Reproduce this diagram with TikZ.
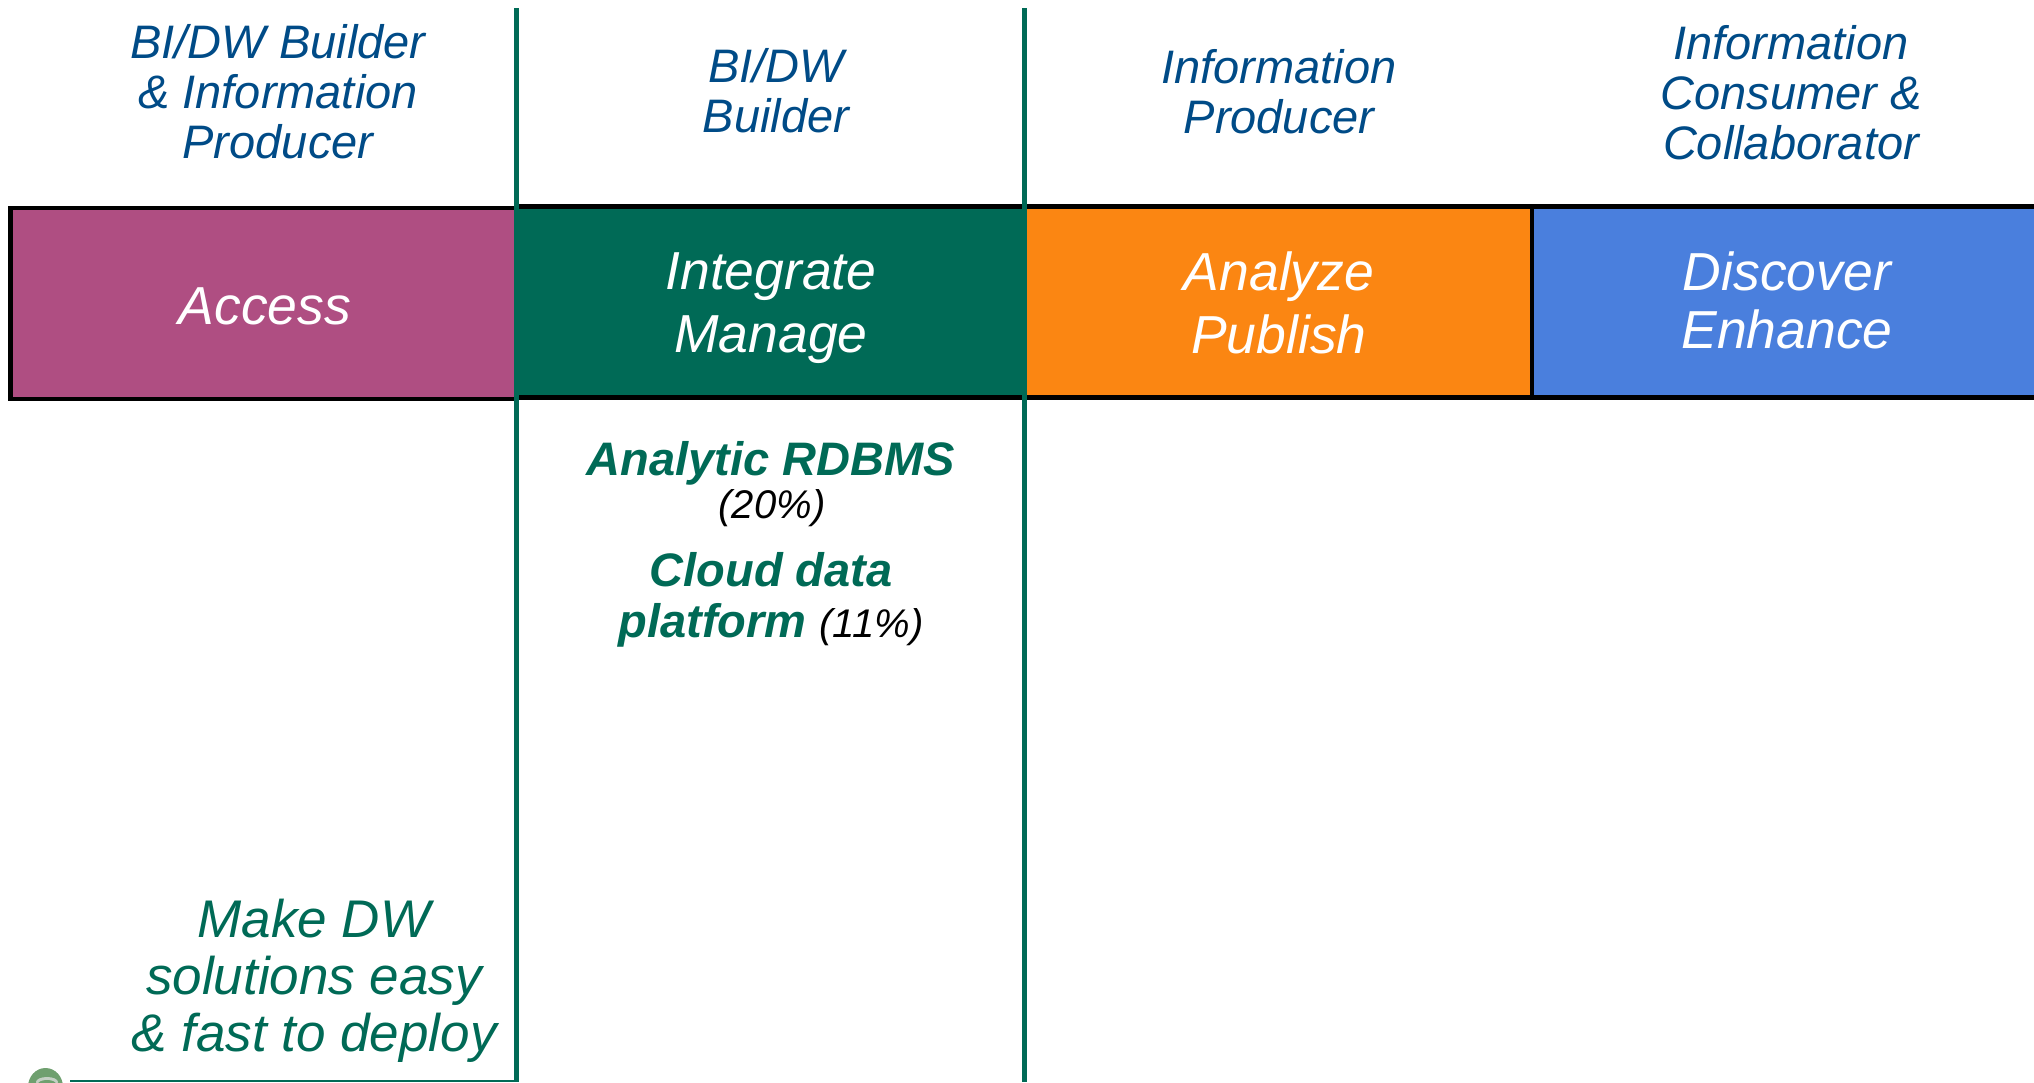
\documentclass[tikz,border=0pt]{standalone}
\usepackage{fontspec}
\setmainfont{Liberation Sans}
\definecolor{navy}{HTML}{004B87}
\definecolor{dgreen}{HTML}{006A56}
\definecolor{magen}{HTML}{AF4E82}
\definecolor{orng}{HTML}{FB8612}
\definecolor{blu}{HTML}{4A7FDD}
\definecolor{logog}{HTML}{6FA06F}
\definecolor{logoh}{HTML}{C4D0C4}
\newcommand{\fs}[2]{\fontsize{#1pt}{#2pt}\selectfont}
\begin{document}
\begin{tikzpicture}[x=1pt,y=-1pt,
  band/.style={draw=black,line width=4.4pt,anchor=north west,inner sep=0pt,outer sep=0pt},
  head/.style={text=navy,font=\fs{47}{50}\itshape,align=center,inner sep=0pt},
  bandtext/.style={text=white,font=\fs{53.5}{63}\itshape,align=center,inner sep=0pt},
  rule/.style={draw=dgreen,line width=4.6pt}]
\useasboundingbox (0,0) rectangle (2034,1082);
% bands
\node[band,fill=magen,minimum width=506pt,minimum height=191pt] (access) at (10.5,208) {};
\node[band,fill=dgreen,minimum width=508pt,minimum height=191pt] (integrate) at (516,206.5) {};
\node[band,fill=orng,minimum width=508pt,minimum height=191pt] (analyze) at (1024,206.5) {};
\node[band,fill=blu,minimum width=530pt,minimum height=191pt] (discover) at (1532,206.5) {};
% headers
\node[head] (h1) at (278,92) {BI/DW Builder\\\& Information\\Producer};
\node[head] (h2) at (776,91) {BI/DW\\Builder};
\node[head] (h3) at (1279,92) {Information\\Producer};
\node[head] (h4) at (1791,93) {Information\\Consumer \&\\Collaborator};
% band text
\node[bandtext] (t1) at (265,306) {Access};
\node[bandtext] (t2) at (771,308) {Integrate\\Manage};
\node[bandtext] (t3) at (1279,303) {Analyze\\Publish};
\node[bandtext,font=\fs{53.5}{58}\itshape] (t4) at (1787,300) {Discover\\Enhance};
% column text
\node[inner sep=0pt,align=center,text=dgreen,font=\fs{47}{50}\bfseries\itshape] (a) at (771,463) {Analytic RDBMS};
\node[inner sep=0pt,font=\fs{40}{44}\itshape] (b) at (772,508) {(20\%)};
\node[inner sep=0pt,align=center,text=dgreen,font=\fs{47}{51}\bfseries\itshape] (c) at (771,600) {Cloud data\\platform {\mdseries\color{black}\fs{40}{44}(11\%)}};
\node[inner sep=0pt,align=center,text=dgreen,font=\fs{53}{57}\itshape] (d) at (314,981) {Make DW\\solutions easy\\\& fast to deploy};
% rules
\coordinate (r1a) at (516.5,8); \coordinate (r1b) at (516.5,1082);
\coordinate (r2a) at (1024.5,8); \coordinate (r2b) at (1024.5,1082);
\coordinate (b1) at (70,1081); \coordinate (b2) at (516,1081);
\draw[rule] (r1a) -- (r1b);
\draw[rule] (r2a) -- (r2b);
\draw[draw=dgreen,line width=2pt] (b1) -- (b2);
% logo fragment
\begin{scope}
\clip (20,1060) rectangle (70,1082);
\fill[logog] (45.5,1087) ellipse (17.5pt and 19pt);
\fill[logoh] (47,1082) ellipse (11pt and 5pt);
\fill[logog] (47,1084) ellipse (9pt and 4pt);
\end{scope}
\end{tikzpicture}
\end{document}
